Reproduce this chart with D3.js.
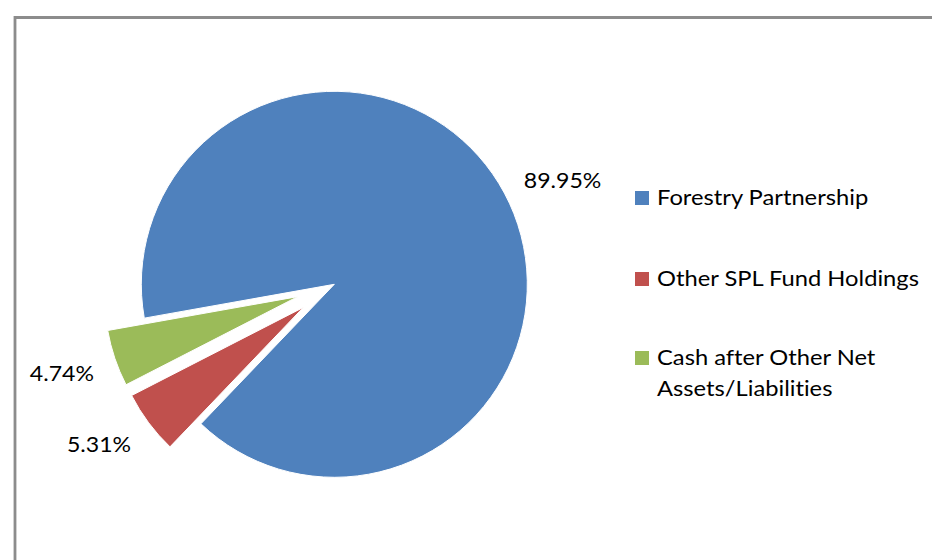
<!DOCTYPE html>
<html>
<head>
<meta charset="utf-8">
<script src="https://cdn.jsdelivr.net/npm/d3@7"></script>
<style>
  body { margin: 0; background: #fff; }
  svg text { font-family: Lato, 'Open Sans', sans-serif; fill: #000; font-variant-ligatures: none; }
</style>
</head>
<body>
<svg id="chart" width="932" height="560"></svg>
<script>
const categories = ['Forestry Partnership', 'Other SPL Fund Holdings', 'Cash after Other Net Assets/Liabilities']
const values = [89.95, 5.31, 4.74]
const valueLabels = ['89.95%', '5.31%', '4.74%']
const legendLines = [['Forestry Partnership'], ['Other SPL Fund Holdings'], ['Cash after Other Net', 'Assets/Liabilities']]
const explodedSlices = ['Other SPL Fund Holdings', 'Cash after Other Net Assets/Liabilities']

const svg = d3.select('#chart')

const color = d3.scaleOrdinal()
  .domain(categories)
  .range(['#4f81bd', '#c0504d', '#9bbb59'])

// chart frame, runs off the right and bottom edges
svg.append('path')
  .attr('d', 'M15,560 V17.5 H932')
  .attr('fill', 'none')
  .attr('stroke', '#8c8c8c')
  .attr('stroke-width', 2.8)

const cx = 334.3
const cy = 284.3
const radius = 193
const explode = radius * 0.2

// first slice starts just below 9 o'clock, like the Excel original
const start = 259.9 * Math.PI / 180

const pie = d3.pie()
  .sort(null)
  .value((d, i) => values[i])
  .startAngle(start)
  .endAngle(start + 2 * Math.PI)

const arc = d3.arc().innerRadius(0).outerRadius(radius)

const slices = pie(categories).map(s => {
  const mid = (s.startAngle + s.endAngle) / 2
  const off = explodedSlices.includes(s.data) ? explode : 0
  return { ...s, mid, off }
})

const g = svg.append('g').attr('transform', `translate(${ cx },${ cy })`)

g.selectAll('path')
  .data(slices)
  .enter()
  .append('path')
  .attr('transform', d => `translate(${ Math.sin(d.mid) * d.off },${ -Math.cos(d.mid) * d.off })`)
  .attr('d', arc)
  .attr('fill', d => color(d.data))
  .attr('stroke', '#fff')
  .attr('stroke-width', 1)

// the original text is a bit wider than Lato, so stretch it a little
const labelStretch = 1.05
const legendStretch = 1.13

// labels sit just outside each slice, anchored by the corner nearest the pie
const capHeight = 16
g.selectAll('text.value')
  .data(slices)
  .enter()
  .append('text')
  .attr('class', 'value')
  .attr('font-size', 22)
  .attr('text-anchor', d => Math.sin(d.mid) > 0 ? 'start' : 'end')
  .attr('transform', d => {
    const d0 = radius + d.off + 22
    const x = Math.sin(d.mid) * d0
    let y = -Math.cos(d.mid) * d0
    y = Math.cos(d.mid) > 0 ? y + 5 : y + capHeight
    return `translate(${ x },${ y }) scale(${ labelStretch },1)`
  })
  .text((d, i) => valueLabels[i])

const legend = svg.append('g').attr('transform', 'translate(635,0)')
const legendTop = [191, 272, 351]

const item = legend.selectAll('g')
  .data(categories)
  .enter()
  .append('g')
  .attr('transform', (d, i) => `translate(0,${ legendTop[i] })`)

item.append('rect')
  .attr('width', 14)
  .attr('height', 14)
  .attr('fill', d => color(d))

item.selectAll('text')
  .data((d, i) => legendLines[i])
  .enter()
  .append('text')
  .attr('font-size', 21)
  .attr('transform', (d, j) => `translate(22,${ 14 + j * 31 }) scale(${ legendStretch },1)`)
  .text(d => d)
</script>
</body>
</html>
